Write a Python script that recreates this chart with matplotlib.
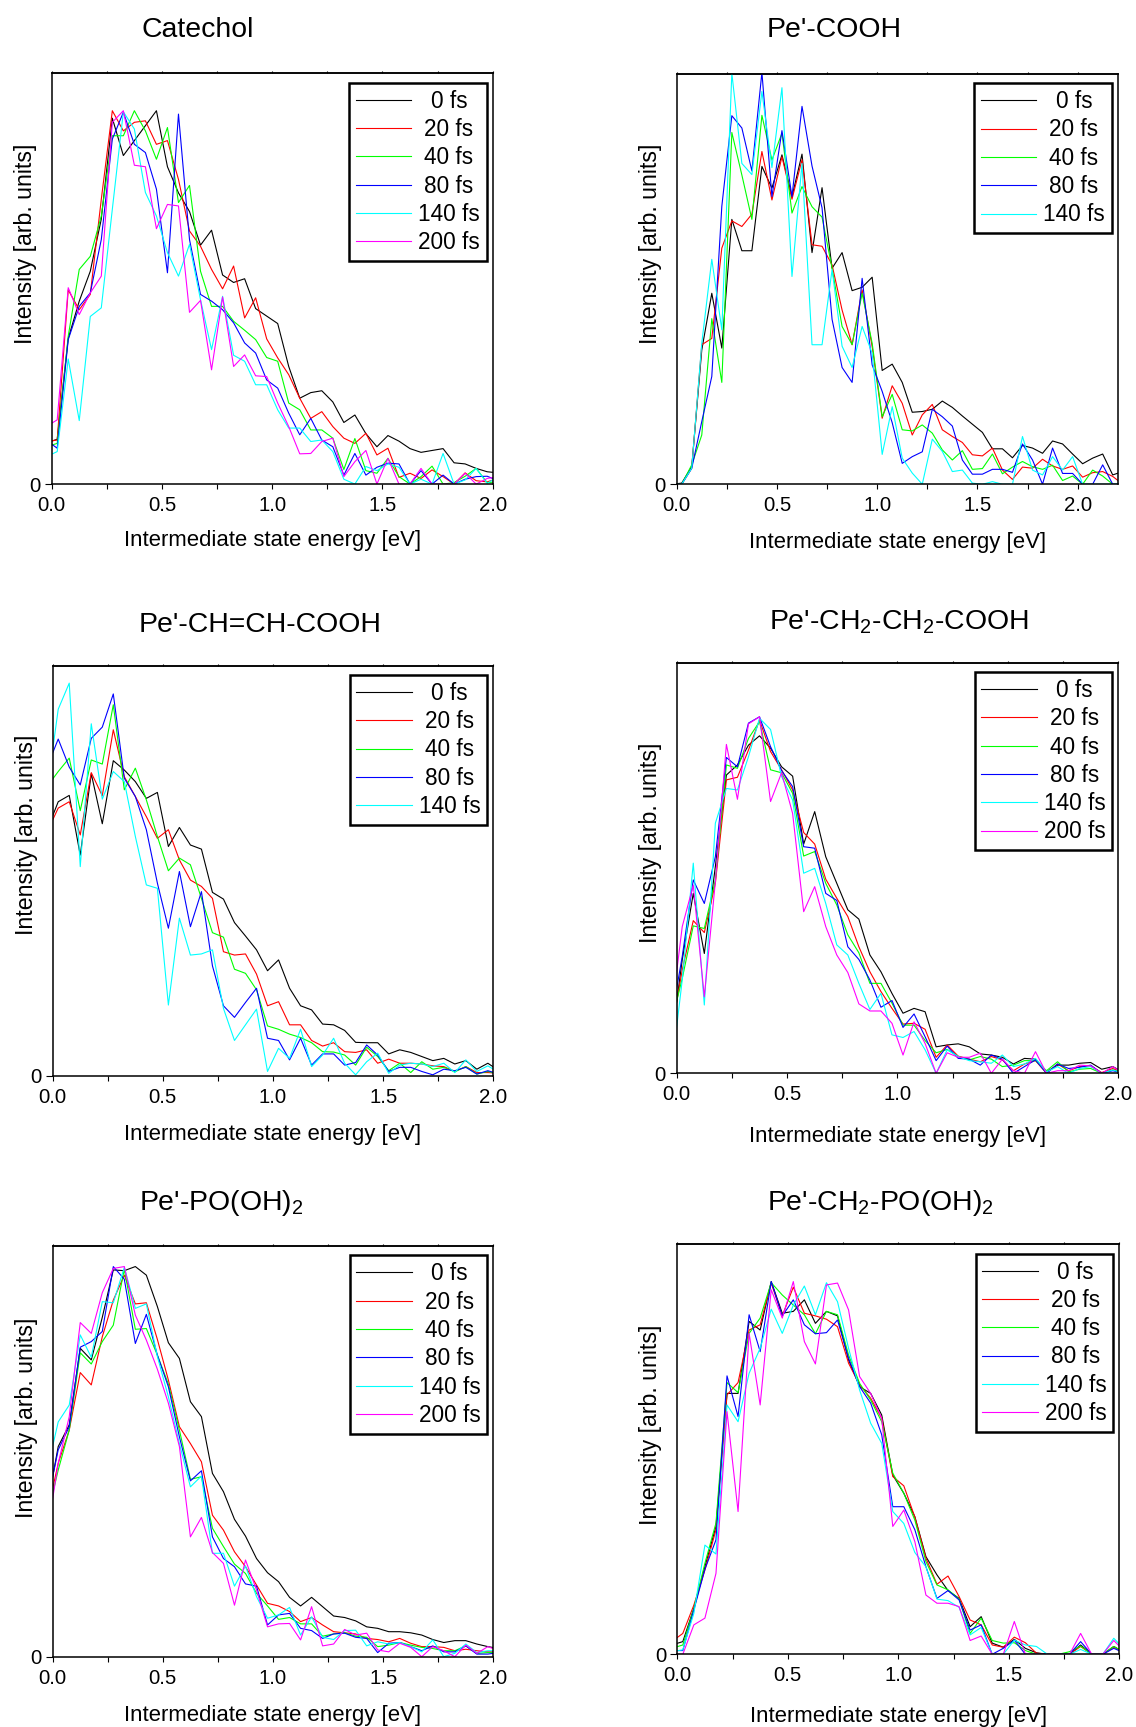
import numpy as np
import matplotlib
matplotlib.use("Agg")
import matplotlib.pyplot as plt
from matplotlib.ticker import MultipleLocator

plt.rcParams["font.family"] = ["Liberation Sans", "DejaVu Sans"]
plt.rcParams["mathtext.default"] = "regular"

# Energy bins (50 meV wide, centred at 0.025, 0.075, ... eV), one extra bin each side
energy = np.round(np.arange(42) * 0.05 - 0.025, 3)
energy_long = np.round(np.arange(46) * 0.05 - 0.025, 3)

delays = ["0 fs", "20 fs", "40 fs", "80 fs", "140 fs", "200 fs"]
colors = ["#000000", "#ff0000", "#00ff00", "#0000ff", "#00ffff", "#ff00ff"]

# ---- Catechol ----
cat_0 = [11, 12, 39, 49, 57, 71, 98, 88, 92, 96, 100, 85, 78, 73, 64, 68, 56, 54, 55, 47, 45, 43, 31.5, 23, 24.5, 25, 22, 16.5, 18.5, 13.5, 10, 13, 11.5, 9.5, 8.5, 9, 9.5, 5.7, 5.4, 4.2, 3.3, 3]
cat_20 = [11.4, 11.8, 52, 46.7, 50.8, 76.3, 100, 94.6, 96.9, 97.3, 91, 92, 81.6, 67.8, 63.7, 57.5, 52.3, 58.4, 44.5, 49.9, 38.9, 33.8, 29.3, 23, 17.6, 19.4, 15.4, 12.3, 10.9, 13.6, 7.8, 9.6, 1.8, 2.9, 1.5, 3.8, 2, 0, 3, 0.9, 0.6, 1.5]
cat_40 = [10, 10.9, 39.6, 57.5, 61, 71.8, 93.3, 93.3, 100, 94.6, 87, 95.5, 75.4, 80, 57, 47.6, 47.6, 43.6, 41.2, 38.7, 33.9, 32.9, 21.7, 19.9, 14.5, 14.5, 12.3, 3.9, 12.2, 3.6, 2.9, 6.9, 2, 0, 2, 4.8, 0, 0.4, 2.1, 4.2, 0.4, 0.6]
cat_80 = [11.8, 9.6, 38.7, 47.6, 51.2, 65.5, 92.4, 99.6, 91, 88.8, 79, 56.6, 99.1, 65.5, 50.8, 49, 46.7, 43.2, 37.8, 35.1, 27.9, 25.7, 19, 13.2, 17.6, 11.8, 10, 2.4, 8.2, 2.4, 4.5, 5.6, 5.4, 0, 3.6, 0, 2.4, 0, 1.3, 2, 2.1, 0.9]
cat_140 = [7.3, 8.7, 33.5, 17, 44.9, 47.2, 73.6, 99.7, 95.1, 78.1, 71.8, 62, 55.7, 64.2, 49.4, 36, 50.3, 34.5, 32.9, 26.6, 26.6, 19.9, 15, 15, 11.4, 11.8, 8.7, 1.3, 0, 4.7, 3.6, 5.4, 4.5, 0, 1.3, 0, 8.2, 0, 1.1, 4.2, 0.2, 2]
cat_200 = [15.4, 17.2, 52.6, 45.4, 51.2, 55.7, 96.9, 100, 85.4, 85, 68.4, 74.9, 74.5, 46, 49.2, 30.6, 50.1, 31.5, 34.6, 29, 28.8, 21.7, 15.4, 8.1, 8.2, 11.4, 12.3, 2, 6, 9, 0, 6.9, 0, 0, 4.2, 0, 0, 0, 2.9, 0, 1.5, 2]

# ---- Pe'-COOH ----
cooh_0 = [0, 0.3, 4.7, 36, 51.2, 36.5, 71, 62.6, 62.6, 85.2, 79.4, 88.3, 77.1, 88.5, 62.1, 79.5, 57.9, 62.1, 51.9, 52.8, 55.5, 30.5, 32.2, 27.3, 19.3, 19.5, 20.1, 22.3, 20.6, 18.3, 16.1, 13.9, 9.5, 9.5, 7.1, 10.4, 9.7, 8.3, 11.6, 10.8, 8.1, 5.5, 7, 8.1, 2.5, 3.4]
cooh_20 = [0, 0, 4.3, 37.4, 39.1, 63.3, 70.6, 69.1, 72.4, 89.2, 76.2, 87.8, 76.4, 87, 64.2, 63.8, 58.8, 46.7, 37.4, 52.1, 36.9, 17.7, 26.4, 21.7, 13.2, 18.6, 21.4, 14.6, 12.8, 11.2, 7.9, 7.6, 9.7, 3.8, 1.3, 4.6, 4.3, 6.7, 4.9, 4, 4.9, 1.9, 3.1, 3.4, 2.1, 0]
cooh_40 = [0, 0, 5.2, 13.2, 44.4, 27.3, 94.3, 82.9, 71, 98.9, 86.9, 94.1, 72.7, 79.8, 74.4, 71.6, 57.9, 42.3, 37.4, 51.2, 37.8, 18.1, 24.1, 14.6, 14.3, 15.9, 13.7, 9.2, 6.5, 9, 4, 4.2, 8.1, 2.8, 4.6, 6.1, 4.7, 4, 5.1, 1, 2.2, 0, 3.8, 2.2, 0, 0]
cooh_80 = [0, 0, 4.3, 16.8, 28.9, 74.5, 98.8, 95.5, 84, 110.4, 77.1, 94.8, 77.1, 101.3, 85.3, 74.1, 44.2, 31.3, 27.3, 55.2, 32, 24.9, 16.5, 5.6, 7.4, 8.7, 20.1, 18.1, 15.6, 6.5, 2.7, 2.7, 4, 4, 3.2, 10.8, 6.5, 0, 9.7, 2.9, 2.9, 0, 0, 5.2, 0, 0]
cooh_140 = [0, 0, 4.3, 37.8, 60.3, 41.4, 110.2, 86, 83, 105.3, 84.9, 106.3, 55.7, 86, 37.4, 37.4, 57.5, 37, 31.3, 42.3, 35.1, 8, 20.8, 7, 3, 0, 12.1, 8.8, 3.4, 3.8, 0.3, 0, 0.7, 0, 0, 12.8, 3.8, 2.5, 7.4, 3.8, 7.4, 0, 0, 0, 0, 0]

# ---- Pe'-CH=CH-COOH ----
chch_0 = [66, 73.5, 75.2, 59.2, 81, 67.6, 84.5, 82, 78.9, 74.4, 76, 61.5, 66.6, 61.9, 60.8, 49.2, 47.4, 41.1, 37.5, 33.8, 28.2, 31.1, 23.5, 18.8, 17.7, 13.9, 13.7, 12.2, 9, 8.9, 8.9, 5.9, 7, 6.3, 5.2, 4.1, 4.7, 3.2, 4.1, 1.8, 3.4, 1.4]
chch_20 = [65.5, 71.8, 73.5, 64.6, 81.3, 75.1, 92.8, 80.2, 74.9, 69.5, 63.7, 66, 57.9, 52.5, 50.8, 47.6, 33.3, 32.4, 32.7, 27.3, 18.8, 19.9, 13.7, 13.7, 9.5, 8, 8.9, 6.5, 6.3, 7, 3.4, 4.5, 3.4, 3.4, 3.2, 2.7, 2.5, 1.2, 2.5, 0.9, 0.9, 0.7]
chch_40 = [77.6, 81.6, 85.2, 71.1, 84.7, 83.6, 99.5, 76.7, 82.5, 74, 64.2, 55, 58.4, 56.6, 47.6, 38.4, 37.2, 28.6, 27.5, 23.1, 13.4, 12.5, 11.2, 10.3, 8.9, 6.5, 6.4, 5.6, 2.9, 7.7, 5.2, 1.4, 3.4, 0.9, 3.8, 1.8, 2.3, 1.1, 2.5, 0.5, 1.2, 0.5]
chch_80 = [82.9, 90.3, 82.8, 78, 90.5, 93.5, 102.4, 79.8, 74.9, 66, 51.7, 39.6, 54.8, 40, 49.4, 29.5, 18.8, 15.7, 19.7, 23.5, 10.1, 9.5, 4.3, 10.1, 2.9, 5.9, 5.9, 2.9, 3.6, 8.3, 5.6, 1.2, 2.3, 2.3, 1.2, 0.3, 1.8, 1.4, 2.3, 0.5, 1.4, 0.5]
chch_140 = [76.7, 98.3, 105.3, 56.1, 94.4, 74.2, 81.6, 78.9, 64.2, 51.2, 50.3, 19, 42.3, 32.4, 32.7, 33.8, 18.1, 9.5, 13.7, 17.9, 1.2, 7.4, 4.7, 12.5, 2.5, 5.6, 10.1, 3.4, 0.3, 3.8, 6.1, 0.7, 2.9, 3.4, 3.2, 2.5, 3.4, 0.9, 4.3, 1.2, 2.7, 0.9]

# ---- Pe'-CH2-CH2-COOH ----
ch2_0 = [8, 30.4, 48.2, 32.1, 55.4, 79.9, 82.6, 87.9, 90.4, 87.1, 82.1, 79.6, 61.4, 70.1, 58, 50.9, 43.8, 41.3, 31.7, 27.2, 21.4, 16.1, 17.4, 16.5, 7.1, 7.6, 7.9, 7.1, 5.2, 4.9, 4.3, 2.5, 4, 3.8, 0.4, 2.2, 2.2, 2.7, 2.9, 1.1, 1.8, 0.2]
ch2_20 = [10.7, 27.7, 40.9, 37.7, 50.9, 78.6, 79.3, 86.6, 94.6, 86.2, 81.3, 75.9, 64.5, 61.4, 52, 46.9, 42, 33.9, 27.2, 21.9, 17.4, 13.2, 13.4, 11.8, 4.3, 7.6, 4.6, 3.8, 3.1, 4.5, 3.6, 0.7, 2.5, 3.4, 0, 2.5, 0.7, 1.8, 2, 0.2, 1.3, 0]
ch2_40 = [13.4, 25.4, 39.5, 38.8, 51.8, 82.6, 81.7, 89.7, 94.2, 81.3, 80.5, 75, 58.2, 59.4, 50.9, 45.1, 37.1, 32.3, 24.1, 24.1, 18.8, 12.9, 12.9, 8.8, 5.5, 6.4, 4.5, 3.6, 4.5, 3.8, 1.8, 2.2, 3.4, 3.4, 0.7, 3.1, 0.4, 1.1, 1.3, 0, 0.9, 0.2]
ch2_80 = [14.3, 31.3, 51.8, 45.5, 58, 84.6, 82.1, 93.8, 95.5, 87.5, 81.1, 76.8, 60.7, 60.3, 48.2, 46.3, 33.9, 30.5, 25, 17.7, 19.5, 12.3, 15.9, 9.8, 3.4, 7.3, 4, 3.8, 2.2, 4.9, 3.8, 0, 1.8, 3.6, 0, 2.5, 1.3, 1.6, 2.2, 0, 0.7, 0]
ch2_140 = [0, 25, 56.3, 18.3, 67, 76.3, 75.9, 84.8, 95.1, 92.1, 79.5, 73.2, 53.6, 54.9, 45.5, 34.4, 31.7, 24.1, 17.1, 21.4, 10.3, 9.6, 11.2, 6.3, 0, 6.3, 4.5, 3.4, 3.1, 2.7, 4.9, 1.8, 2.5, 4, 0.4, 1.8, 0, 1.3, 1.8, 0, 0.9, 0]
ch2_200 = [15.2, 39.3, 50.4, 20.5, 51.3, 88.1, 73.4, 93.6, 95.5, 72.8, 80.5, 69.6, 43.3, 50, 39.3, 31.7, 27, 18.6, 16.7, 16.7, 13.4, 4.9, 13.8, 8, 0, 5.5, 4.3, 4.3, 5.4, 0, 3.8, 0.7, 0, 5.8, 0, 0.7, 0.7, 2.2, 2, 0, 1.8, 0]

# ---- Pe'-PO(OH)2 ----
po_0 = [40.2, 56.3, 62.1, 82.6, 79.5, 90.9, 103.6, 103.4, 104.5, 102.2, 93.8, 84.1, 79.9, 68.3, 64.3, 49.1, 44.2, 36.8, 32.3, 26.3, 22.5, 20.1, 15.9, 13.6, 15.9, 13.4, 10.9, 10.5, 9.6, 8, 7.6, 6.7, 6.7, 6.4, 5.8, 4.6, 3.8, 4.3, 4.3, 3.4, 2.7, 2.2]
po_20 = [38.4, 51.8, 60.7, 76.1, 72.8, 85.7, 95.5, 102.2, 94.5, 94.8, 85, 74.1, 61.6, 57.1, 52.2, 37.9, 33.9, 28.1, 24.1, 19.2, 14.3, 13.6, 12.1, 9.4, 10.5, 8.5, 6.7, 6.4, 6.1, 4.9, 4.6, 4, 4.9, 3.6, 2.7, 2.7, 2.5, 1.6, 2, 1.6, 1.3, 1.3]
po_40 = [37.5, 50, 60.7, 81.4, 78.4, 84.4, 88.8, 103.8, 87.7, 87.9, 80.8, 73, 60.7, 47.5, 48.2, 34.4, 29.5, 24.8, 22.3, 17, 13.6, 10, 10.5, 8.8, 8.8, 5.5, 6.1, 6.4, 5.5, 5.2, 2.7, 3.1, 3.8, 3.1, 2.5, 2.2, 1.6, 1.6, 2.9, 0.9, 1.1, 1.1]
po_80 = [41.1, 55.4, 61.6, 82.9, 84.4, 87.1, 104.5, 101.1, 83.9, 91.7, 80.8, 72.3, 58.9, 47.1, 49.8, 32.1, 26.3, 24.1, 19.5, 18.9, 8.5, 11.2, 11.6, 7.6, 7, 4.9, 6.1, 6.3, 5.2, 4.9, 1.1, 3.6, 3.8, 2.7, 1.6, 2.9, 1.3, 1.3, 2.9, 0.7, 0.7, 1.1]
po_140 = [50, 62.9, 67.4, 86.2, 80.2, 95.1, 94.8, 104.3, 93.3, 94.5, 80.4, 69.6, 57.1, 45.5, 48.4, 27.7, 27.7, 18.9, 24.3, 16.1, 10.3, 11.2, 13.2, 5.8, 10.7, 5.2, 4.6, 7, 7.1, 2.9, 4, 3.4, 3.8, 2.7, 1.3, 4.5, 0, 0.9, 3.4, 1.1, 1.6, 1.6]
po_200 = [33, 51.8, 64.3, 89.5, 86.6, 97.5, 104, 104.5, 91.5, 84.8, 77, 67.9, 56.3, 32.1, 37.3, 27.9, 25, 13.8, 25.9, 17.9, 8, 8.8, 8.9, 4.5, 13.4, 2.9, 3.4, 7.3, 5.8, 6.3, 1.8, 1.3, 3.6, 2.5, 0, 2.7, 1.6, 0, 3.1, 0.9, 2.7, 1.6]

# ---- Pe'-CH2-PO(OH)2 ----
ch2po_0 = [2.5, 3.4, 12.3, 23.5, 34.3, 70, 70, 89.3, 87, 100, 91.5, 92, 95.1, 88.8, 92, 90.8, 79, 71.8, 70, 64.2, 48.1, 43.2, 36.9, 26.2, 21.3, 17.1, 15, 7.4, 10.1, 3, 1.9, 4, 1.6, 0.4, 0, 0, 0, 2.5, 0, 0, 2.1, 0.4]
ch2po_20 = [3.4, 5.6, 13.2, 22.6, 33.4, 69.6, 72.9, 87, 88.4, 99.6, 90.8, 98.5, 91.5, 90.8, 89.9, 87.9, 78.1, 72.3, 68.7, 63.3, 47.7, 45.2, 36.8, 25.8, 18.8, 21, 15.5, 9.2, 7.9, 2.5, 1.9, 4.6, 3.1, 0.3, 0, 0, 0, 2.1, 0, 0, 1.9, 0.4]
ch2po_40 = [1.6, 2.5, 12.3, 24.4, 35.2, 72.9, 70.2, 86.1, 90.2, 99.7, 96.4, 93.7, 91.1, 86, 92, 91.1, 80.3, 72.7, 68.2, 62.4, 48.6, 43.2, 36, 24.9, 18.6, 17.3, 14.8, 5.6, 9.7, 3.7, 3, 3.1, 1, 0, 0, 0, 0.7, 2.2, 0, 0, 2.1, 0.4]
ch2po_80 = [1, 1, 11.9, 22.8, 30.7, 74.7, 63.8, 91.1, 81.2, 100, 90.8, 95.1, 88.4, 86, 86.3, 89.7, 79.4, 71.8, 67.4, 58.9, 39.6, 39.6, 33.4, 23.5, 15, 17.1, 14.6, 6.5, 7.9, 0, 1.6, 3.8, 0, 0, 0, 0, 0, 3.4, 0, 0, 1.6, 0.3]
ch2po_140 = [0.7, 1.2, 11, 29.3, 26.9, 66.9, 62.4, 75.4, 82.1, 92.6, 86.1, 93.7, 98.8, 91.1, 99.7, 94.6, 82.1, 70.9, 62, 56.6, 38.3, 35.1, 27.3, 23.5, 14.8, 14.4, 12.6, 5.2, 7.2, 0, 0, 3.8, 2.5, 2.1, 0, 0, 0, 1.3, 0, 0, 4.3, 1.2]
ch2po_200 = [0, 0, 7.9, 9.7, 21.7, 65.1, 38.3, 86.1, 66.9, 97.8, 90.2, 100, 83.9, 77.9, 99.1, 99.6, 92.4, 74.5, 70, 63.3, 34.3, 38.7, 30.2, 15.9, 13.7, 13.7, 12.8, 3.7, 4.9, 0, 0, 8.8, 0, 0, 0, 0, 0, 5.6, 0, 0, 3.7, 0.7]

titles = ["Catechol", "Pe'-COOH", "Pe'-CH=CH-COOH",
          "Pe'-CH$_2$-CH$_2$-COOH", "Pe'-PO(OH)$_2$", "Pe'-CH$_2$-PO(OH)$_2$"]

panels = [
    dict(x=energy, xmax=2.0, series=[cat_0, cat_20, cat_40, cat_80, cat_140, cat_200],
         rect=[0.0455, 0.7197, 0.3882, 0.2378], title_xy=(0.1739, 0.9785),
         xlab_y=-0.112, ylab_y=0.585),
    dict(x=energy_long, xmax=2.2, series=[cooh_0, cooh_20, cooh_40, cooh_80, cooh_140],
         rect=[0.5957, 0.7196, 0.3882, 0.2376], title_xy=(0.7345, 0.9785),
         xlab_y=-0.117, ylab_y=0.587),
    dict(x=energy, xmax=2.0, series=[chch_0, chch_20, chch_40, chch_80, chch_140],
         rect=[0.0464, 0.3770, 0.3879, 0.2376], title_xy=(0.2289, 0.6342),
         xlab_y=-0.117, ylab_y=0.587),
    dict(x=energy, xmax=2.0, series=[ch2_0, ch2_20, ch2_40, ch2_80, ch2_140, ch2_200],
         rect=[0.5957, 0.3785, 0.3887, 0.2378], title_xy=(0.7914, 0.6356),
         xlab_y=-0.128, ylab_y=0.561),
    dict(x=energy, xmax=2.0, series=[po_0, po_20, po_40, po_80, po_140, po_200],
         rect=[0.0464, 0.0407, 0.3879, 0.2378], title_xy=(0.1945, 0.2994),
         xlab_y=-0.117, ylab_y=0.581),
    dict(x=energy, xmax=2.0, series=[ch2po_0, ch2po_20, ch2po_40, ch2po_80, ch2po_140, ch2po_200],
         rect=[0.5962, 0.0421, 0.3891, 0.2374], title_xy=(0.7746, 0.2994),
         xlab_y=-0.125, ylab_y=0.560),
]

fig = plt.figure(figsize=(11.36, 17.27), dpi=100)
legends = []

for title, p in zip(titles, panels):
    ax = fig.add_axes(p["rect"])
    for vals, lab, col in zip(p["series"], delays, colors):
        ax.plot(p["x"], vals, color=col, lw=0.8, label=lab)

    ax.set_xlim(0, p["xmax"])
    ax.set_ylim(0, 110)
    ax.xaxis.set_major_locator(MultipleLocator(0.5))
    ax.xaxis.set_minor_locator(MultipleLocator(0.25))
    ax.xaxis.set_major_formatter(lambda v, pos: f"{v:.1f}")
    ax.set_yticks([0])
    ax.set_yticklabels(["0"])

    ax.tick_params(axis="x", which="both", direction="out", length=3.6, width=0.8,
                   labelsize=14.7, pad=5, top=False)
    ax.tick_params(axis="y", direction="out", length=4.8, width=0.8,
                   labelsize=14.7, pad=3, right=False)
    for sp in ax.spines.values():
        sp.set_linewidth(1.1)

    # small outward ticks along the upper frame
    top = ax.secondary_xaxis("top")
    top.xaxis.set_major_locator(MultipleLocator(0.25))
    top.tick_params(axis="x", direction="out", length=1.3, width=0.8, labeltop=False)
    top.spines["top"].set_linewidth(1.1)

    ax.set_xlabel("Intermediate state energy [eV]", fontsize=15.9)
    ax.set_ylabel("Intensity [arb. units]", fontsize=16.7)
    ax.xaxis.set_label_coords(0.5, p["xlab_y"])
    ax.yaxis.set_label_coords(-0.034, p["ylab_y"])

    leg = ax.legend(loc="upper right", bbox_to_anchor=(0.986, 0.977), borderaxespad=0,
                    fontsize=16.3, handlelength=2.45, handletextpad=0.3, borderpad=0.3,
                    labelspacing=0.235, fancybox=False, framealpha=1, edgecolor="black")
    leg.get_frame().set_linewidth(1.8)
    legends.append(leg)

    fig.text(p["title_xy"][0], p["title_xy"][1], title, fontsize=20.4,
             ha="center", va="baseline")

# centre the legend entries inside their text column
renderer = fig.canvas.get_renderer()
for leg in legends:
    texts = leg.get_texts()
    widths = [t.get_window_extent(renderer).width for t in texts]
    wmax = max(widths)
    for t, w in zip(texts, widths):
        t.set_x((wmax - w) / 2)

fig.savefig("out.png", dpi=100)
